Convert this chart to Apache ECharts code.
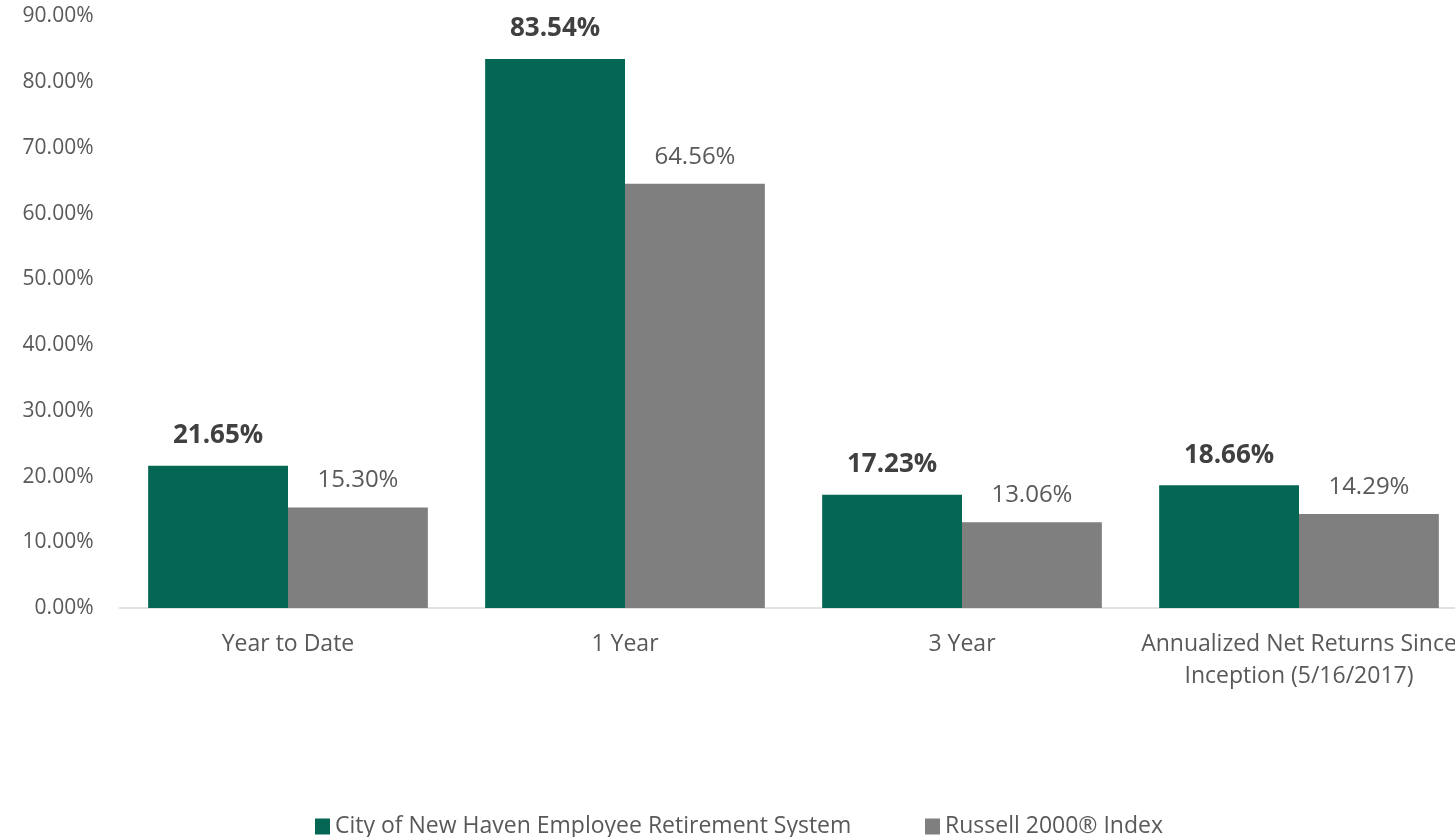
<!DOCTYPE html>
<html>
<head>
<meta charset="utf-8">
<script src="https://cdn.jsdelivr.net/npm/echarts@6/dist/echarts.min.js"></script>
<style>
  html, body { margin: 0; padding: 0; background: #fff; }
  #chart { width: 1455px; height: 837px; }
</style>
</head>
<body>
<div id="chart"></div>
<script>
// categories and values
const categories = ['Year to Date', '1 Year', '3 Year', 'Annualized Net Returns Since\nInception (5/16/2017)']
const seriesNames = ['City of New Haven Employee Retirement System', 'Russell 2000® Index']
const newHaven = [21.65, 83.54, 17.23, 18.66]
const russell = [15.30, 64.56, 13.06, 14.29]

const fontMain = "'Open Sans', 'Noto Sans', sans-serif"

const chart = echarts.init(document.getElementById('chart'))

const legendText = { fontFamily: fontMain, fontSize: 23, color: '#595959' }

chart.setOption({
  animation: false,
  textStyle: { fontFamily: fontMain },
  // plot runs a little past the right edge, like the original
  grid: { left: 119.5, width: 1348, top: 16.5, bottom: 229, outerBoundsMode: 'none' },
  legend: [
    {
      top: 810, left: 310,
      itemWidth: 15, itemHeight: 16, icon: 'rect',
      textStyle: legendText,
      data: [seriesNames[0]]
    },
    {
      top: 810, left: 920,
      itemWidth: 15, itemHeight: 16, icon: 'rect',
      textStyle: legendText,
      data: [seriesNames[1]]
    }
  ],
  xAxis: {
    type: 'category',
    data: categories,
    axisLine: { lineStyle: { color: '#d9d9d9', width: 1.5 } },
    axisTick: { show: false },
    axisLabel: { color: '#595959', fontSize: 23, margin: 20, lineHeight: 32, interval: 0 }
  },
  yAxis: {
    type: 'value',
    min: 0,
    max: 90,
    interval: 10,
    splitLine: { show: false },
    axisLine: { show: false },
    axisTick: { show: false },
    axisLabel: {
      color: '#595959',
      fontSize: 21,
      margin: 26,
      formatter: v => v.toFixed(2) + '%'
    }
  },
  series: [
    {
      name: seriesNames[0],
      type: 'bar',
      data: newHaven,
      barGap: '0%',
      barCategoryGap: '17%',
      itemStyle: { color: '#046754' },
      label: {
        show: true,
        position: 'top',
        distance: 17,
        color: '#404040',
        fontWeight: 'bold',
        fontSize: 26,
        formatter: p => p.value.toFixed(2) + '%'
      }
    },
    {
      name: seriesNames[1],
      type: 'bar',
      data: russell,
      barGap: '0%',
      barCategoryGap: '17%',
      itemStyle: { color: '#7f7f7f' },
      label: {
        show: true,
        position: 'top',
        distance: 15,
        color: '#595959',
        fontSize: 24,
        formatter: p => p.value.toFixed(2) + '%'
      }
    }
  ]
})
</script>
</body>
</html>
